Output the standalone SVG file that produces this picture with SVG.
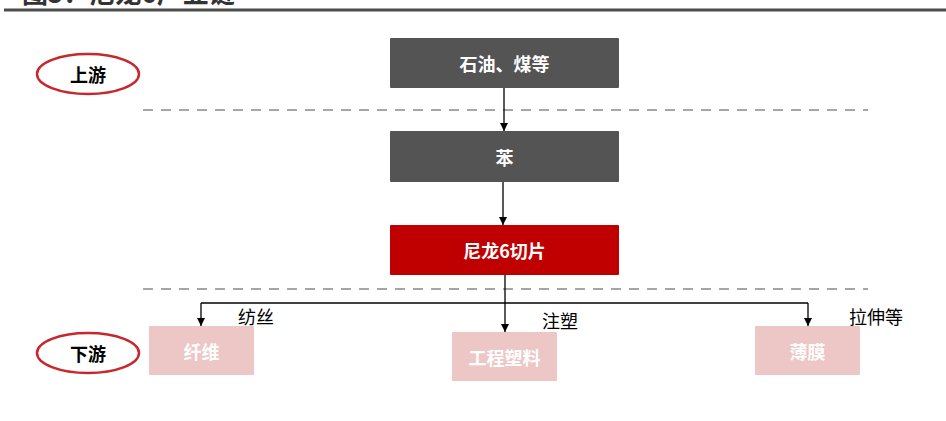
<svg xmlns="http://www.w3.org/2000/svg" width="946" height="421" viewBox="0 0 946 421">
<defs>
<marker id="ah" viewBox="0 0 10 10" refX="10" refY="5" markerWidth="8" markerHeight="8" markerUnits="userSpaceOnUse" orient="auto"><path d="M0,0 L10,5 L0,10 z" fill="#000"/></marker>
<style>
.t{font-family:"Noto Sans CJK SC","Liberation Sans",sans-serif}
.box{fill:#545454}
.red{fill:#c00000}
.pink{fill:#edc6c6}
.wt{fill:#fff;font-size:18px;font-weight:bold;text-anchor:middle;dominant-baseline:central}
.lbl{fill:#000;font-size:18px;dominant-baseline:central}
.oval{fill:#fff;stroke:#c8282d;stroke-width:2.5}
.ot{fill:#000;font-size:18px;font-weight:bold;text-anchor:middle;dominant-baseline:central}
.dash{stroke:#a6a6a6;stroke-width:2;stroke-dasharray:10 8;fill:none}
.conn{stroke:#000;stroke-width:1.3;fill:none}
</style>
</defs>
<rect width="946" height="421" fill="#fff"/>
<text class="t" x="22" y="3" font-size="26" font-weight="bold" fill="#333">图5：尼龙6产业链</text>
<rect x="4" y="8.5" width="942" height="3" fill="#4d4d4d"/>
<g id="dividers">
<line class="dash" x1="143" y1="110" x2="868" y2="110"/>
<line class="dash" x1="143" y1="289" x2="868" y2="289"/>
</g>
<g id="upstream"><ellipse class="oval" cx="88" cy="74" rx="51" ry="20"/><text class="t ot" x="88" y="74">上游</text></g>
<g id="downstream"><ellipse class="oval" cx="88" cy="353" rx="51" ry="20"/><text class="t ot" x="88" y="353">下游</text></g>
<g id="connectors">
<line class="conn" x1="504" y1="88" x2="504" y2="131" marker-end="url(#ah)"/>
<line class="conn" x1="503" y1="182" x2="503" y2="225" marker-end="url(#ah)"/>
<line class="conn" x1="505" y1="275" x2="505" y2="303"/>
<line class="conn" x1="201" y1="303" x2="808" y2="303"/>
<line class="conn" x1="201" y1="303" x2="201" y2="326" marker-end="url(#ah)"/>
<line class="conn" x1="808" y1="303" x2="808" y2="326" marker-end="url(#ah)"/>
<line class="conn" x1="505" y1="303" x2="505" y2="332" marker-end="url(#ah)"/>
<text class="t lbl" x="238" y="316">纺丝</text>
<text class="t lbl" x="542" y="320">注塑</text>
<text class="t lbl" x="849" y="316">拉伸等</text>
</g>
<g id="n1"><rect class="box" x="390" y="38" width="229" height="50" rx="1"/><text class="t wt" x="504.5" y="63">石油、煤等</text></g>
<g id="n2"><rect class="box" x="390" y="131" width="229" height="51" rx="1"/><text class="t wt" x="504.5" y="156.5">苯</text></g>
<g id="n3"><rect class="red" x="390" y="225" width="229" height="50" rx="1"/><text class="t wt" x="504.5" y="250">尼龙6切片</text></g>
<g id="n4"><rect class="pink" x="149" y="326" width="105" height="49" rx="1"/><text class="t wt" x="201.5" y="350.5">纤维</text></g>
<g id="n5"><rect class="pink" x="452" y="332" width="105" height="49" rx="1"/><text class="t wt" x="504.5" y="356.5">工程塑料</text></g>
<g id="n6"><rect class="pink" x="755" y="326" width="105" height="49" rx="1"/><text class="t wt" x="807.5" y="350.5">薄膜</text></g>
</svg>
